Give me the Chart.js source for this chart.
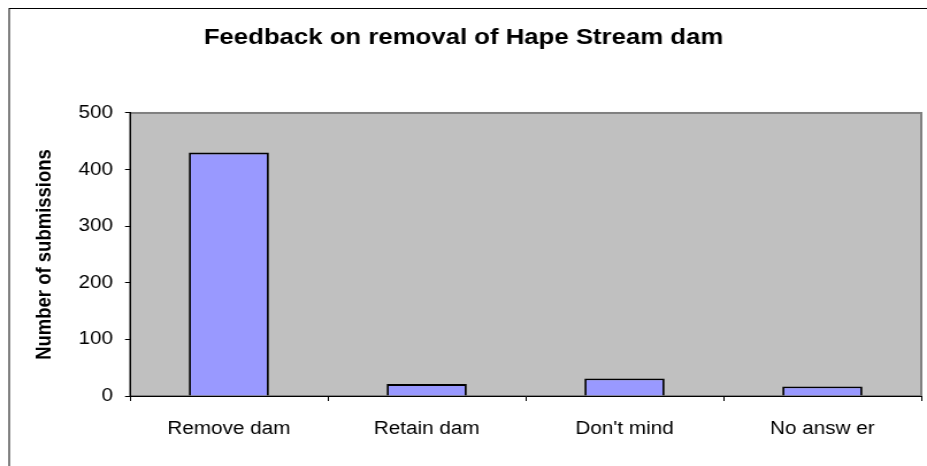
<!DOCTYPE html>
<html>
<head>
<meta charset="utf-8">
<script src="https://cdn.jsdelivr.net/npm/chart.js@4.4.1/dist/chart.umd.min.js"></script>
<style>
  html, body { margin: 0; padding: 0; background: #fff; overflow: hidden; }
  #damChart { display: block; }
</style>
</head>
<body>
<canvas id="damChart" width="806" height="466"></canvas>
<script>
const categories = ['Remove dam', 'Retain dam', "Don't mind", 'No answ er'];
const submissions = [430, 21, 31, 17];
const yTicks = [0, 100, 200, 300, 400, 500];

// the original chart is a bit wider than tall text would suggest, so the
// canvas is drawn narrower and stretched to the 927px window
const STRETCH = 927 / 806;

// plot background, plot frame and the outer chart frame
const excelFrame = {
    id: 'excelFrame',
    afterLayout(chart) {
        // centre the title on the whole chart, not on the padded area
        const t = chart.titleBlock;
        if (t) { t.left = 0; t.right = chart.width; t.width = chart.width; }
    },
    beforeDraw(chart) {
        const c = chart.ctx;
        const a = chart.chartArea;
        c.save();
        c.fillStyle = '#fff';
        c.fillRect(0, 0, chart.width, chart.height);
        c.strokeStyle = '#000';
        c.lineWidth = 1;
        c.strokeRect(8, 8.5, chart.width + 20, chart.height + 20);
        c.fillStyle = '#C0C0C0';
        c.fillRect(a.left, a.top, a.right - a.left, a.bottom - a.top);
        c.strokeStyle = '#808080';
        c.lineWidth = 2;
        c.strokeRect(a.left, a.top, a.right - a.left, a.bottom - a.top);
        c.restore();
    }
};

document.addEventListener("DOMContentLoaded", function() {
    const canvas = document.getElementById('damChart');
    const ctx = canvas.getContext('2d');
    new Chart(ctx, {
        type: 'bar',
        data: {
            labels: categories,
            datasets: [{
                label: 'Submissions',
                data: submissions,
                backgroundColor: '#9999FF',
                borderColor: '#000000',
                borderWidth: 1.8,
                barPercentage: 0.405,
                categoryPercentage: 1.0
            }]
        },
        options: {
            responsive: false,
            animation: false,
            layout: { padding: { left: 28, right: 5, top: 0, bottom: 0 } },
            scales: {
                x: {
                    grid: { display: true, drawOnChartArea: false, offset: true, tickLength: 5, color: '#000' },
                    border: { color: '#000', width: 1 },
                    ticks: { color: '#000', font: { family: 'Liberation Sans', size: 18 }, padding: 17, maxRotation: 0 },
                    afterFit(scale) { scale.height = 70; }
                },
                y: {
                    min: 0,
                    max: 500,
                    afterBuildTicks(scale) { scale.ticks = yTicks.map(v => ({ value: v })); },
                    grid: { display: true, drawOnChartArea: false, tickLength: 4.3, color: '#000' },
                    border: { color: '#000', width: 1 },
                    ticks: { color: '#000', font: { family: 'Liberation Sans', size: 18 }, padding: 10.5 },
                    title: {
                        display: true,
                        text: 'Number of submissions',
                        color: '#000',
                        font: { family: 'Liberation Sans', size: 18.5, weight: 'bold' },
                        padding: { top: 0, bottom: 0 }
                    },
                    afterFit(scale) { scale.width = 85; }
                }
            },
            plugins: {
                legend: { display: false },
                tooltip: { enabled: false },
                title: {
                    display: true,
                    text: 'Feedback on removal of Hape Stream dam',
                    color: '#000',
                    font: { family: 'Liberation Sans', size: 22.4, weight: 'bold' },
                    padding: { top: 24.6, bottom: 61.5 }
                }
            }
        },
        plugins: [excelFrame]
    });
    canvas.style.width = Math.round(806 * STRETCH) + 'px';
    canvas.style.height = '466px';
});
</script>
</body>
</html>
